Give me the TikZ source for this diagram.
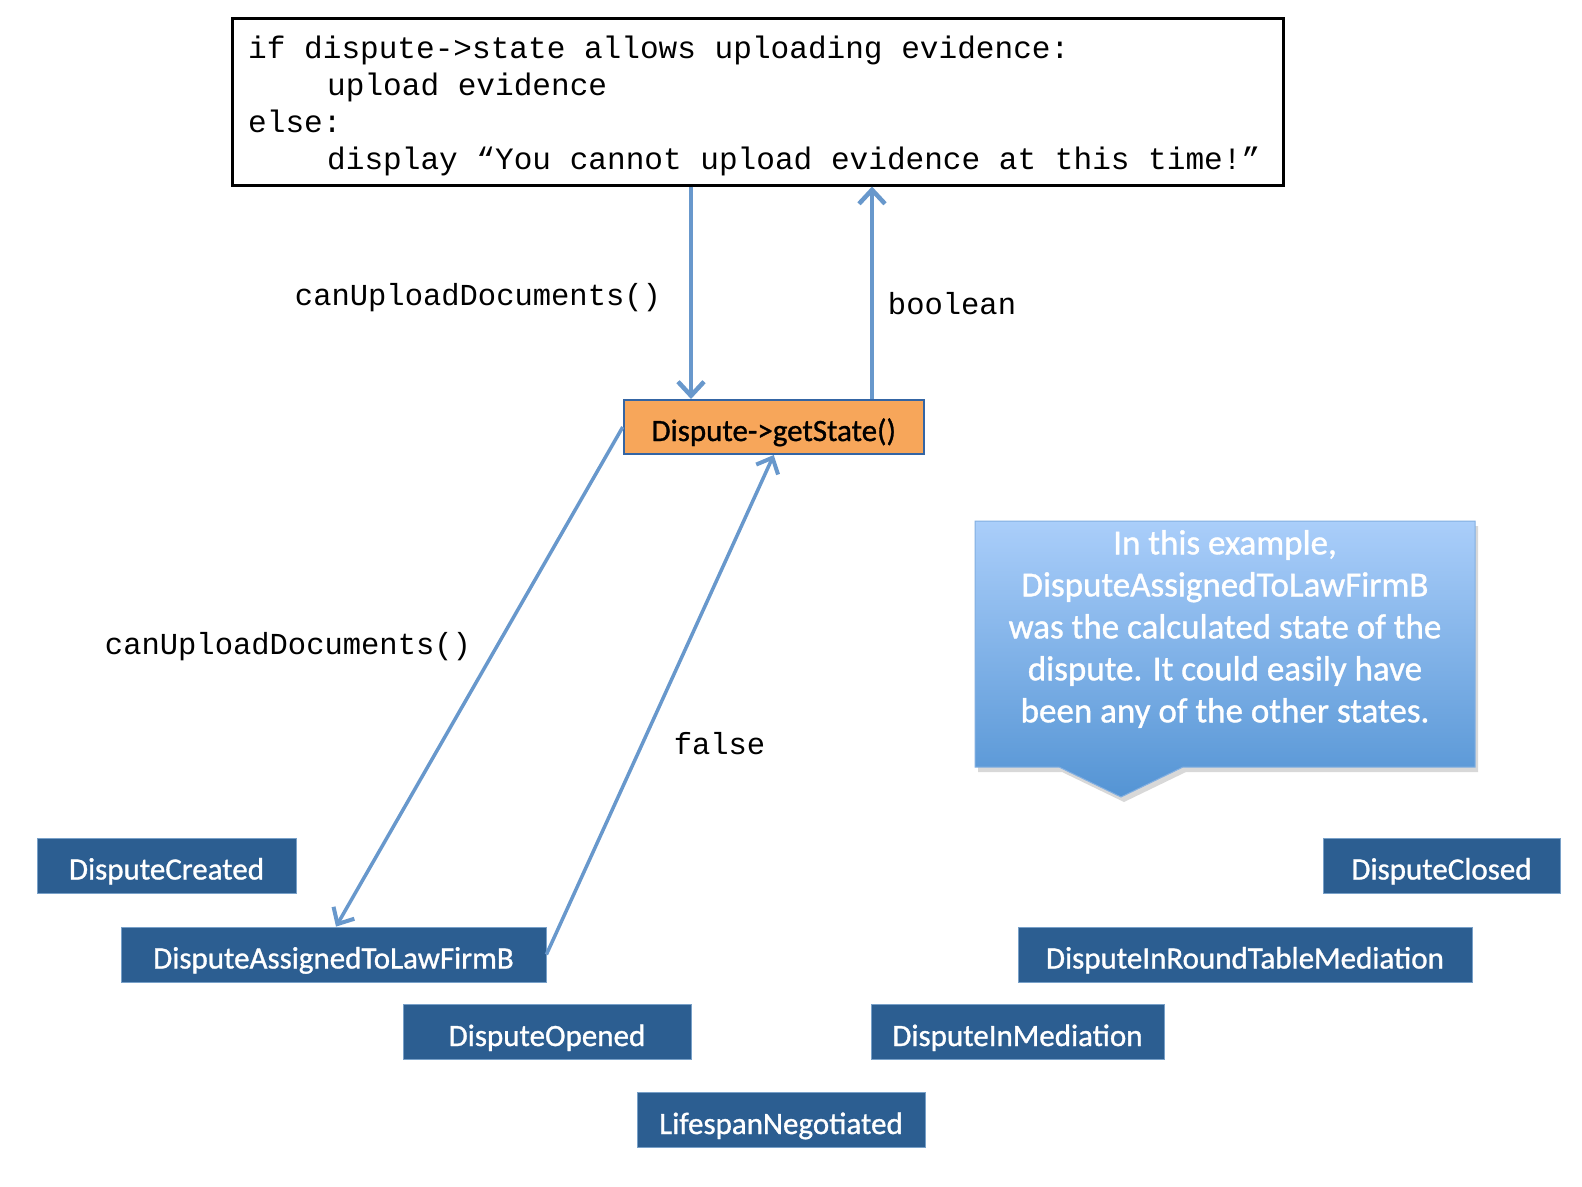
\documentclass[tikz,border=0pt]{standalone}
\usepackage{fontspec}
\setmainfont{Carlito}
\newfontfamily\boxfont[FakeBold=1.0]{Carlito}
\newfontfamily\codefont{Liberation Mono}
\usetikzlibrary{arrows.meta,shadows,calc}
\definecolor{stateblue}{RGB}{44,94,145}
\definecolor{stateedge}{RGB}{120,160,200}
\definecolor{arrowblue}{RGB}{104,152,204}
\definecolor{boxorange}{RGB}{247,166,90}
\definecolor{orangeedge}{RGB}{52,101,164}
\definecolor{calltop}{RGB}{170,206,250}
\definecolor{callbot}{RGB}{84,148,212}
\definecolor{calledge}{RGB}{130,175,225}
\tikzset{
  statebox/.style={fill=stateblue, draw=stateedge, line width=0.8pt, text=white,
    minimum height=55, inner sep=0pt, text height=28pt, text depth=0pt,
    font=\boxfont\fontsize{31}{37}\selectfont},
  arr/.style={draw=arrowblue, line width=4pt,
    -{Straight Barb[length=14pt,width=26pt,line width=4.5pt]}},
  darr/.style={draw=arrowblue, line width=3.5pt,
    -{Straight Barb[length=13pt,width=24pt,line width=4pt]}},
  lbl/.style={font=\codefont\fontsize{30.5}{36}\selectfont, inner sep=0pt},
}
\begin{document}
\begin{tikzpicture}[x=1pt,y=-1pt]
\fill[white] (0,0) rectangle (1582,1186);
\useasboundingbox (0,0) rectangle (1582,1186);

% code box
\node[draw=black, line width=2.5pt, minimum width=1051, minimum height=167,
  anchor=north west, inner sep=0pt] (code) at (231,17) {};
\node[anchor=west, align=left, inner sep=0pt,
  font=\codefont\fontsize{31.1}{37}\selectfont] (codetext) at (248,106)
  {if dispute->state allows uploading evidence:\\
   \hspace*{79pt}upload evidence\\
   else:\\
   \hspace*{79pt}display “You cannot upload evidence at this time!”};

% getState box
\node[fill=boxorange, draw=orangeedge, line width=2pt, minimum width=300,
  minimum height=54, inner sep=0pt, text height=28pt, text depth=0pt,
  font=\boxfont\fontsize{31}{37}\selectfont] (gs)
  at (773.75,427) {\textcolor{black}{Dispute->getState()}};

% state boxes
\node[statebox, minimum width=259] (created) at (166.5,865.5) {DisputeCreated};
\node[statebox, minimum width=425] (assigned) at (333.5,954.5) {DisputeAssignedToLawFirmB};
\node[statebox, minimum width=288] (opened) at (547,1032) {DisputeOpened};
\node[statebox, minimum width=288] (lifespan) at (781,1120) {LifespanNegotiated};
\node[statebox, minimum width=293] (mediation) at (1017.5,1032) {DisputeInMediation};
\node[statebox, minimum width=454] (roundtable) at (1245,954.5) {DisputeInRoundTableMediation};
\node[statebox, minimum width=237] (closed) at (1441.5,865.5) {DisputeClosed};

% callout
\path[draw=calledge, line width=1pt, top color=calltop, bottom color=callbot,
  drop shadow={shadow xshift=3pt, shadow yshift=-5pt, opacity=0.3}]
  (975,521) -- (1475,521) -- (1475,767) -- (1183,767) -- (1121,797)
  -- (1059,767) -- (975,767) -- cycle;
\node[text=white, align=center, inner sep=0pt,
  font=\boxfont\fontsize{35}{42}\selectfont] (note) at (1225,629)
  {In this example,\\ DisputeAssignedToLawFirmB\\ was the calculated state of the\\
   dispute. It could easily have\\ been any of the other states.};

% connectors
\coordinate (xdown) at (691,0);
\coordinate (xup) at (872,0);
\draw[arr] (code.south -| xdown) -- (gs.north -| xdown);
\draw[arr] (gs.north -| xup) -- (code.south -| xup);
\draw[darr] (gs.west) -- ($(assigned.north)+(2.5,0)$);
\draw[darr] (assigned.east) -- (gs.south);

% labels
\node[lbl] (l1) at (478,298) {canUploadDocuments()};
\node[lbl] (l2) at (952,304) {boolean};
\node[lbl] (l3) at (288,647) {canUploadDocuments()};
\node[lbl] (l4) at (719.5,744) {false};
\end{tikzpicture}
\end{document}
